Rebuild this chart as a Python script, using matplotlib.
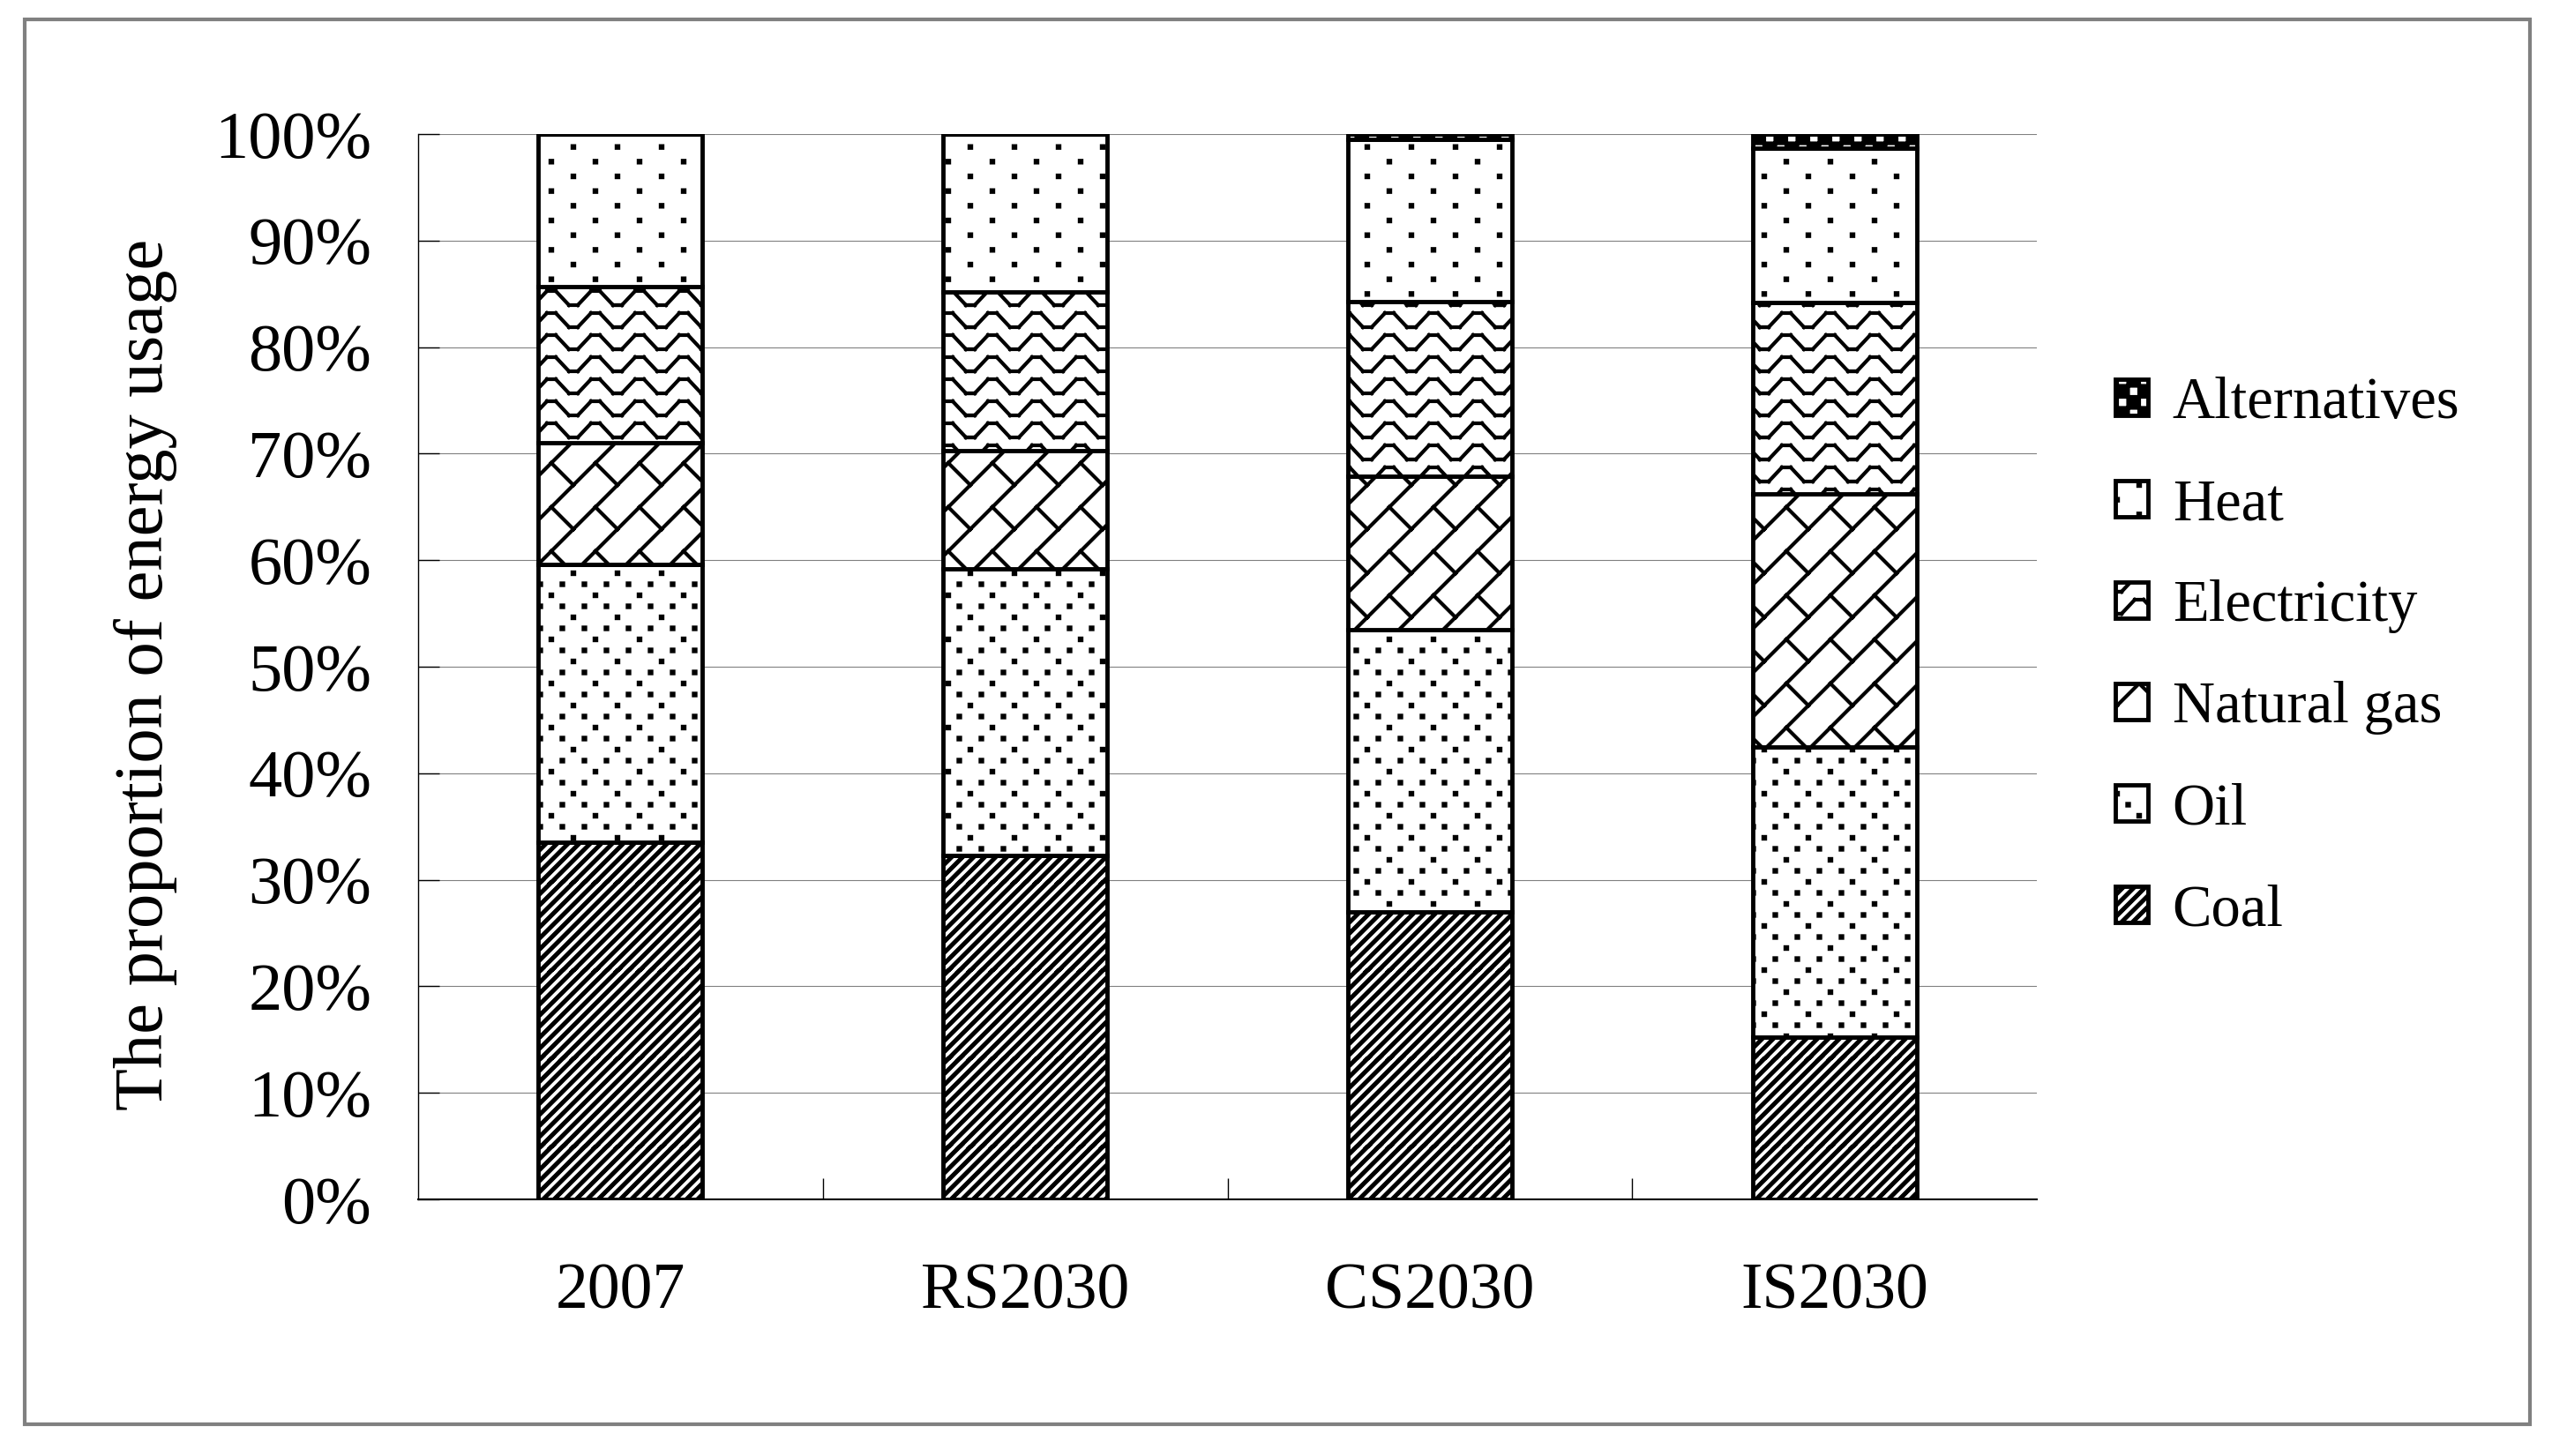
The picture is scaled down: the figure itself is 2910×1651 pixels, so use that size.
import warnings
import numpy as np
import matplotlib
matplotlib.use("Agg")
import matplotlib.pyplot as plt
import matplotlib.hatch as mhatch
from matplotlib.path import Path
from matplotlib.patches import Rectangle
from matplotlib.ticker import PercentFormatter, FixedLocator

warnings.simplefilter("ignore")

# data (share of energy usage, %)
categories = ["2007", "RS2030", "CS2030", "IS2030"]
fuels = ["Coal", "Oil", "Natural gas", "Electricity", "Heat", "Alternatives"]
coal = [33.5, 32.3, 27.0, 15.2]
oil = [26.1, 26.9, 26.5, 27.3]
gas = [11.4, 11.1, 14.4, 23.7]
elec = [14.7, 14.9, 16.4, 18.0]
heat = [14.3, 14.8, 15.2, 14.5]
alt = [0.0, 0.0, 0.5, 1.3]
series = [coal, oil, gas, elec, heat, alt]
hatches = ["c", "l", "g", "e", "h", "a"]

plt.rcParams["font.family"] = "Liberation Serif"
plt.rcParams["hatch.linewidth"] = 3.0
plt.rcParams["hatch.color"] = "black"


# --- custom hatch patterns (unit square = one tile) ---
def _copies():
    for dx in (-1, 0, 1):
        for dy in (-1, 0, 1):
            yield dx, dy


def seg_path(lines):
    v, c = [], []
    for line in lines:
        for dx, dy in _copies():
            for (x0, y0), (x1, y1) in zip(line[:-1], line[1:]):
                v += [(x0 + dx, y0 + dy), (x1 + dx, y1 + dy)]
                c += [Path.MOVETO, Path.LINETO]
    return np.array(v, float), np.array(c, dtype=Path.code_type)


def poly_path(polys):
    v, c = [], []
    for poly in polys:
        for dx, dy in _copies():
            pts = [(x + dx, y + dy) for x, y in poly]
            v += pts + [pts[0]]
            c += [Path.MOVETO] + [Path.LINETO] * (len(pts) - 1) + [Path.CLOSEPOLY]
    return np.array(v, float), np.array(c, dtype=Path.code_type)


def dot(x, y, s=0.022):
    return [(x - s / 2, y - s / 2), (x + s / 2, y - s / 2),
            (x + s / 2, y + s / 2), (x - s / 2, y + s / 2)]


# coal: bold diagonal stripes
coal_polys = []
w = 0.012
for k in range(8):
    x0 = k / 8
    coal_polys.append([(x0, 0), (x0 + w, 0), (x0 + w + 1, 1), (x0 + 1, 1)])

# oil: dense staggered dots
oil_dots = []
for r in range(8):
    y = r * 0.125
    kind = r % 4
    if kind == 0:
        xs = [0.0, 0.5]
    elif kind == 2:
        xs = [0.25, 0.75]
    else:
        xs = [0.125, 0.375, 0.625, 0.875]
    oil_dots += [dot(x, y) for x in xs]

# heat: sparse staggered dots
heat_dots = []
for r in range(6):
    y = r / 6
    xs = [0.0, 0.5] if r % 2 == 0 else [0.25, 0.75]
    heat_dots += [dot(x, y) for x in xs]

# electricity: zigzag rows
zig_lines = []
a = 0.16
for r in range(4):
    y = r * 0.25 + 0.04
    zig_lines.append([(-0.05, y), (0.05, y), (0.2, y + a), (0.3, y + a), (0.45, y),
                      (0.55, y), (0.7, y + a), (0.8, y + a), (0.95, y), (1.05, y)])

# natural gas: diagonal lattice
gas_lines = []
for cc in (0.0, 0.5):
    gas_lines.append([(cc, 0), (cc + 1, 1)])
    for y in (0.25, 0.75):
        gas_lines.append([(y + cc, y), (y + cc + 0.25, y - 0.25)])

# alternatives: checkerboard
alt_polys = []
for i in range(8):
    for j in range(8):
        if (i + j) % 2 == 0:
            alt_polys.append([(i / 8, j / 8), ((i + 1) / 8, j / 8),
                              ((i + 1) / 8, (j + 1) / 8), (i / 8, (j + 1) / 8)])

PATTERNS = {
    "c": poly_path(coal_polys),
    "l": poly_path(oil_dots),
    "h": poly_path(heat_dots),
    "e": seg_path(zig_lines),
    "g": seg_path(gas_lines),
    "a": poly_path(alt_polys),
}


class PatternHatch(mhatch.HatchPatternBase):
    def __init__(self, hatch, density):
        key = next((ch for ch in hatch if ch in PATTERNS), None)
        self.key = key
        self.num_vertices = 0 if key is None else len(PATTERNS[key][1])

    def set_vertices_and_codes(self, vertices, codes):
        vertices[:] = PATTERNS[self.key][0]
        codes[:] = PATTERNS[self.key][1]


mhatch._hatch_types.append(PatternHatch)

# --- figure ---
W, H = 2910, 1651
fig = plt.figure(figsize=(W / 100, H / 100), dpi=100)
ax_l, ax_r, ax_t, ax_b = 474, 2309, 152, 1360
ax = fig.add_axes([ax_l / W, 1 - ax_b / H, (ax_r - ax_l) / W, (ax_b - ax_t) / H])

x = np.arange(len(categories))
bottom = np.zeros(len(categories))
bars = []
for name, vals, h in zip(fuels, series, hatches):
    b = ax.bar(x, vals, 0.405, bottom=bottom, color="white", edgecolor="black",
               linewidth=3.5, hatch=h, label=name, zorder=2)
    bars.append(b)
    bottom = bottom + np.array(vals)

ax.set_xlim(-0.5, len(categories) - 0.5)
ax.set_ylim(0, 100)
ax.yaxis.set_major_locator(FixedLocator(np.arange(0, 101, 10)))
ax.yaxis.set_major_formatter(PercentFormatter(decimals=0))
ax.yaxis.grid(True, color="#808080", linewidth=0.8)
ax.set_axisbelow(True)

ax.set_xticks(x)
ax.set_xticklabels(categories)
ax.xaxis.set_minor_locator(FixedLocator(x[:-1] + 0.5))
ax.tick_params(axis="x", which="major", length=0, pad=52, labelsize=53)
ax.tick_params(axis="x", which="minor", direction="in", length=17, width=1)
ax.tick_params(axis="y", direction="in", length=17, width=1, pad=38, labelsize=55)

for s in ("top", "right"):
    ax.spines[s].set_visible(False)
ax.spines["left"].set_linewidth(1.0)
ax.spines["bottom"].set_linewidth(1.5)

ax.set_ylabel("The proportion of energy usage", fontsize=56.5)
ax.yaxis.set_label_coords(-0.149, 0.4925)

handles = [b.patches[0] for b in bars][::-1]
labels = fuels[::-1]
fig.legend(handles, labels, loc="center left", bbox_to_anchor=(2398 / W, 1 - 745 / H),
           frameon=False, fontsize=48, handlelength=0.55, handleheight=0.55,
           handletextpad=0.42, labelspacing=0.81, borderpad=0, borderaxespad=0)

fig.add_artist(Rectangle((28 / W, 1 - 1615 / H), (2868 - 28) / W, (1615 - 22) / H,
                         transform=fig.transFigure, fill=False,
                         edgecolor="#808080", linewidth=3))

fig.savefig("out.png", dpi=100)
